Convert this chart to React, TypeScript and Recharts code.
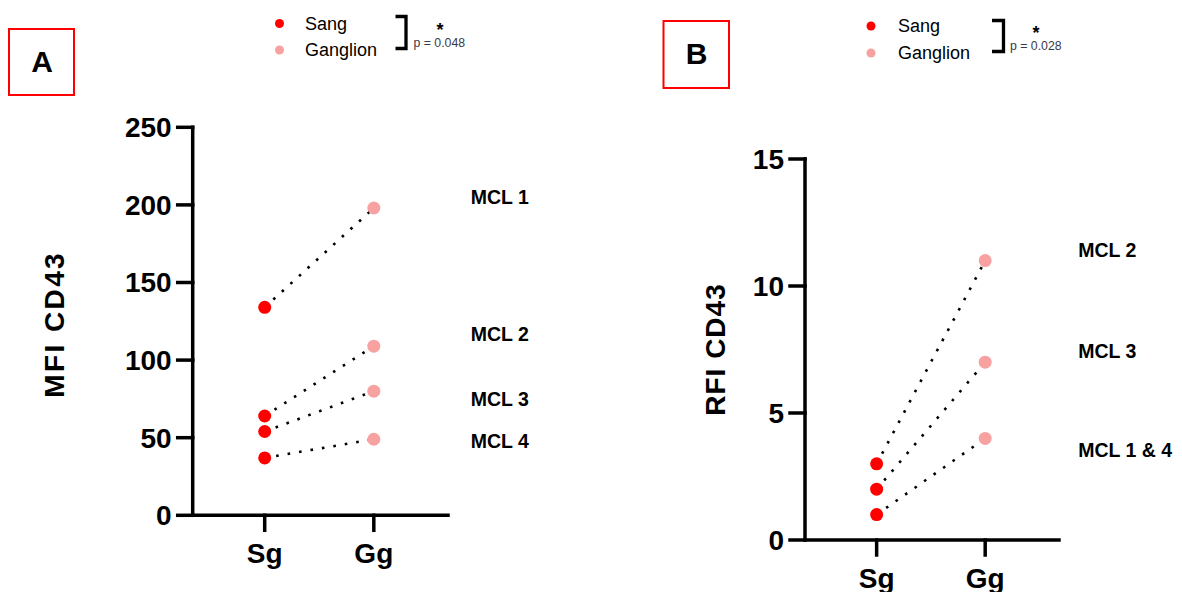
import React from 'react';
import { LineChart, Line, XAxis, YAxis, ReferenceDot } from 'recharts';

// ---------- data ----------
const categories = ['Sg', 'Gg'];
const categoryPos = [1, 2];
const legendNames = ['Sang', 'Ganglion'];

const seriesNamesA = ['MCL 1', 'MCL 2', 'MCL 3', 'MCL 4'];
const sangA = [134, 64, 54, 37];
const ganglionA = [198, 109, 80, 49];
const labelAnchorA = [205, 117, 75, 48];
const yTicksA = [0, 50, 100, 150, 200, 250];
const pValueA = 'p = 0.048';

const seriesNamesB = ['MCL 2', 'MCL 3', 'MCL 1 & 4'];
const sangB = [3, 2, 1];
const ganglionB = [11, 7, 4];
const labelAnchorB = [11.4, 7.45, 3.55];
const yTicksB = [0, 5, 10, 15];
const pValueB = 'p = 0.028';

// ---------- styles ----------
const RED = '#ff0000';
const PINK = '#f8a1a1';
const FONT = "'Liberation Sans', Arial, sans-serif";

const buildRows = (sang: number[], gang: number[]) =>
  [sang, gang].map((vals, i) => {
    const row: any = { x: categoryPos[i] };
    vals.forEach((v, k) => (row['s' + k] = v));
    return row;
  });

const renderDot = (props: any) => {
  const { cx, cy, index } = props;
  if (cx == null || cy == null) return <g key={'d' + index} />;
  return <circle key={'d' + index + '-' + cx + '-' + cy} cx={cx} cy={cy} r={6.5} fill={index === 0 ? RED : PINK} />;
};

const tickStyle = { fill: '#000', fontSize: 28, fontWeight: 700, fontFamily: FONT };
const axisStroke = { stroke: '#000', strokeWidth: 3.5, strokeLinecap: 'square' as const };

const yTitle = (text: string, cx: number, spacing: number, dy: number) => (props: any) => {
  const vb = props && props.viewBox ? props.viewBox : { y: 0, height: 0 };
  const cy = vb.y + vb.height / 2 + dy;
  return (
    <text
      x={cx}
      y={cy}
      transform={`rotate(-90, ${cx}, ${cy})`}
      textAnchor="middle"
      dominantBaseline="central"
      style={{ fontSize: 28, fontWeight: 700, fontFamily: FONT, letterSpacing: spacing }}
      fill="#000"
    >
      {text}
    </text>
  );
};

type PanelProps = {
  names: string[];
  sang: number[];
  gang: number[];
  anchors: number[];
  ticks: number[];
  width: number;
  margin: any;
  yWidth: number;
  xHeight: number;
  title: string;
  titleX: number;
  titleSpacing: number;
  titleDy: number;
  labelOffset: number;
};

const Panel = (p: PanelProps) => {
  const rows = buildRows(p.sang, p.gang);
  const yMax = p.ticks[p.ticks.length - 1];
  return (
    <LineChart width={p.width} height={592} data={rows} margin={p.margin}>
      <XAxis
        type="number"
        dataKey="x"
        domain={[0.34, 2.68]}
        allowDataOverflow
        ticks={categoryPos}
        interval={0}
        tickFormatter={(v: number) => categories[categoryPos.indexOf(v)]}
        axisLine={axisStroke}
        tickLine={axisStroke}
        tickSize={15}
        tickMargin={13}
        tick={tickStyle}
        height={p.xHeight}
      />
      <YAxis
        type="number"
        domain={[0, yMax]}
        ticks={p.ticks}
        interval={0}
        width={p.yWidth}
        axisLine={axisStroke}
        tickLine={axisStroke}
        tickSize={15}
        tickMargin={6}
        tick={tickStyle}
        label={yTitle(p.title, p.titleX, p.titleSpacing, p.titleDy)}
      />
      {p.names.map((n, k) => (
        <Line
          key={n}
          dataKey={'s' + k}
          name={n}
          stroke="#000"
          strokeWidth={2.6}
          strokeDasharray="2.6 9"
          dot={renderDot}
          activeDot={false}
          isAnimationActive={false}
        />
      ))}
      {p.names.map((n, k) => (
        <ReferenceDot
          key={'lab' + n}
          x={categoryPos[1]}
          y={p.anchors[k]}
          r={0}
          fill="none"
          stroke="none"
          label={{
            value: n,
            position: 'right',
            offset: p.labelOffset,
            style: { fontSize: 19.5, fontWeight: 700, fontFamily: FONT, fill: '#000' },
          }}
        />
      ))}
    </LineChart>
  );
};

const Legend = ({ dotX, y0, gap, textX }: any) => (
  <g>
    {legendNames.map((n, i) => (
      <g key={n}>
        <circle cx={dotX} cy={y0 + i * gap} r={4.5} fill={i === 0 ? RED : PINK} />
        <text x={textX} y={y0 + i * gap} dominantBaseline="central" style={{ fontSize: 18, fontFamily: FONT }} fill="#000">
          {n}
        </text>
      </g>
    ))}
  </g>
);

const Bracket = ({ x, y1, y2, arm, starX, starY, pX, pY, p }: any) => (
  <g>
    <path d={`M ${x - arm} ${y1} L ${x} ${y1} L ${x} ${y2} L ${x - arm} ${y2}`} fill="none" stroke="#000" strokeWidth={3.3} />
    <text x={starX} y={starY} textAnchor="middle" style={{ fontSize: 18, fontWeight: 700, fontFamily: FONT }} fill="#000">
      *
    </text>
    <text x={pX} y={pY} style={{ fontSize: 12.3, fontFamily: FONT }} fill="#3a3a48">
      {p}
    </text>
  </g>
);

export default function App() {
  return (
    <div style={{ position: 'absolute', left: 0, top: 0, width: 1182, height: 592, background: '#fff', overflow: 'hidden' }}>
      <div style={{ position: 'absolute', left: 0, top: 0 }}>
        <Panel
          names={seriesNamesA}
          sang={sangA}
          gang={ganglionA}
          anchors={labelAnchorA}
          ticks={yTicksA}
          width={590}
          margin={{ top: 127.3, right: 142, bottom: 16.7, left: 0 }}
          yWidth={192.7}
          xHeight={60}
          title="MFI CD43"
          titleX={55}
          titleSpacing={2.4}
          titleDy={3}
          labelOffset={97}
        />
      </div>
      <div style={{ position: 'absolute', left: 590, top: 0 }}>
        <Panel
          names={seriesNamesB}
          sang={sangB}
          gang={ganglionB}
          anchors={labelAnchorB}
          ticks={yTicksB}
          width={592}
          margin={{ top: 159, right: 123, bottom: 0, left: 0 }}
          yWidth={215}
          xHeight={52}
          title="RFI CD43"
          titleX={125}
          titleSpacing={1}
          titleDy={0}
          labelOffset={93}
        />
      </div>
      <svg width={1182} height={592} style={{ position: 'absolute', left: 0, top: 0, pointerEvents: 'none' }}>
        <rect x={9} y={29} width={65} height={66} fill="none" stroke={RED} strokeWidth={2} />
        <text x={42} y={61} textAnchor="middle" dominantBaseline="central" style={{ fontSize: 30, fontWeight: 700, fontFamily: FONT }} fill="#000">
          A
        </text>
        <rect x={663.5} y={21} width={65.5} height={67} fill="none" stroke={RED} strokeWidth={2} />
        <text x={696.5} y={53} textAnchor="middle" dominantBaseline="central" style={{ fontSize: 30, fontWeight: 700, fontFamily: FONT }} fill="#000">
          B
        </text>
        <Legend dotX={279.5} y0={23.5} gap={26.5} textX={305} />
        <Bracket x={406} y1={16.5} y2={48.5} arm={10.5} starX={440} starY={36} pX={413.5} pY={46.5} p={pValueA} />
        <Legend dotX={871} y0={26} gap={27} textX={898} />
        <Bracket x={1003.5} y1={20.5} y2={51.5} arm={11.5} starX={1036} starY={39} pX={1010} pY={50} p={pValueB} />
      </svg>
    </div>
  );
}
